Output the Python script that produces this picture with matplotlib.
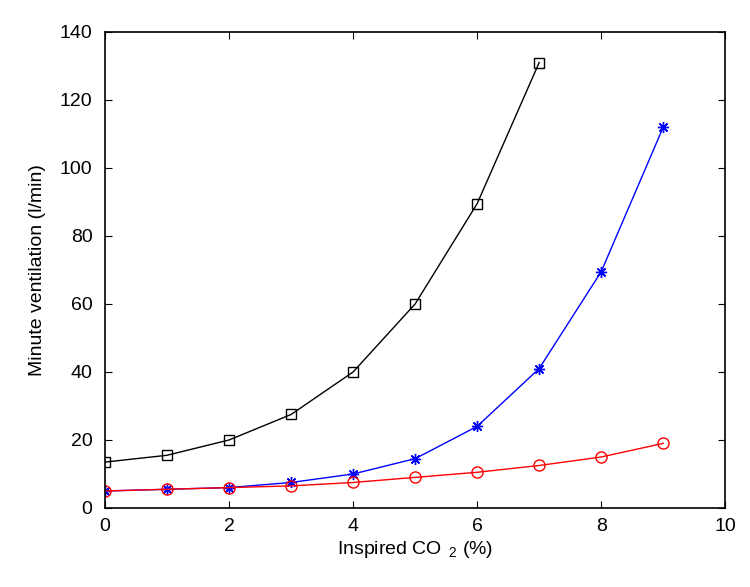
import numpy as np
import matplotlib
matplotlib.use("Agg")
import matplotlib.pyplot as plt

plt.rcParams['font.family'] = ['Liberation Sans', 'DejaVu Sans']
plt.rcParams['mathtext.fontset'] = 'custom'
plt.rcParams['mathtext.rm'] = 'Liberation Sans'
plt.rcParams['mathtext.it'] = 'Liberation Sans'

# Inspired CO2 (%) and minute ventilation (l/min)
co2_black = [0, 1, 2, 3, 4, 5, 6, 7]
vent_black = [13.5, 15.5, 20, 27.5, 40, 60, 89.5, 131]

co2_blue = [0, 1, 2, 3, 4, 5, 6, 7, 8, 9]
vent_blue = [5, 5.5, 6, 7.5, 10, 14.5, 24, 41, 69.5, 112]

co2_red = [0, 1, 2, 3, 4, 5, 6, 7, 8, 9]
vent_red = [5, 5.5, 6, 6.5, 7.5, 9, 10.5, 12.5, 15, 19]

fig = plt.figure(figsize=(7.5, 5.87), dpi=100)
ax = fig.add_axes([0.14, 0.1346, 0.827, 0.811])

ax.plot(co2_black, vent_black, 'k-', marker='s', mfc='none', ms=7, lw=1)
ax.plot(co2_blue, vent_blue, 'b-', marker=(8, 2, 0), ms=8, mew=1, lw=1)
ax.plot(co2_red, vent_red, 'r-', marker='o', mfc='none', ms=8, lw=1)

ax.set_xlim(0, 10)
ax.set_ylim(0, 140)
ax.set_xticks(np.arange(0, 11, 2))
ax.set_yticks(np.arange(0, 141, 20))
ax.tick_params(direction='in', top=True, right=True, labelsize=14, length=5)
ax.tick_params(axis='y', pad=9)
ax.tick_params(axis='x', pad=7)
for s in ax.spines.values():
    s.set_linewidth(1.2)

ax.set_xlabel('Inspired CO $_{\\,2}$ (%)', fontsize=14, labelpad=3)
ax.set_ylabel('Minute ventilation (l/min)', fontsize=14, labelpad=10)

fig.savefig('out.png', dpi=100)
